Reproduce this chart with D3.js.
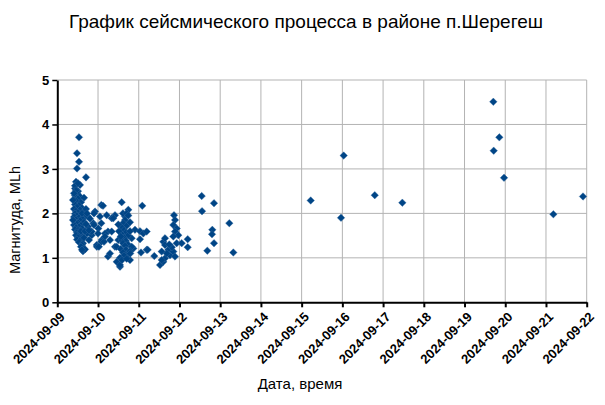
<!DOCTYPE html>
<html><head><meta charset="utf-8">
<script src="https://cdn.jsdelivr.net/npm/d3@7"></script>
<style>
body{margin:0;background:#fff;}
svg{display:block;}
</style></head>
<body>
<svg id="chart" width="605" height="405"></svg>
<script>
// ---- data ----
const titleText = "График сейсмического процесса в районе п.Шерегеш";
const yLabelText = "Магнитуда, MLh";
const xLabelText = "Дата, время";
const xTickLabels = ["2024-09-09","2024-09-10","2024-09-11","2024-09-12","2024-09-13","2024-09-14","2024-09-15","2024-09-16","2024-09-17","2024-09-18","2024-09-19","2024-09-20","2024-09-21","2024-09-22"];
const yTicks = [0,1,2,3,4,5];

const events0909 = [
["12:47",3.71],["11:37",3.35],["12:47",3.16],["11:37",3.01],["16:55",2.81],
["11:01",2.71],["13:22",2.64],["10:26",2.56],["12:12",2.50],["11:37",2.45],["10:26",2.40],["13:22",2.38],["12:12",2.33],["11:01",2.28],["13:58",2.25],["10:26",2.20],["12:47",2.18],["11:37",2.14],["09:51",2.10],["14:33",2.12],["13:22",2.08],["11:01",2.05],["12:12",2.02],["10:26",1.99],["15:08",2.02],["13:58",1.97],["11:37",1.95],["09:51",1.92],["12:47",1.90],["16:19",1.92],["14:33",1.88],["11:01",1.86],["13:22",1.84],["10:26",1.81],["12:12",1.79],["15:44",1.80],["11:37",1.76],["09:51",1.74],["13:58",1.73],["12:47",1.70],["11:01",1.68],["14:33",1.66],["10:26",1.64],["12:12",1.62],["13:22",1.60],["11:37",1.57],["15:08",1.56],["12:47",1.53],["11:01",1.51],["13:58",1.49],["12:12",1.46],["14:33",1.44],["11:37",1.41],["13:22",1.38],["12:47",1.35],["15:08",1.33],["14:33",1.29],["13:58",1.25],["15:44",1.21],["15:08",1.15],["16:19",1.19],
["09:16",2.30],["09:16",1.85],["10:26",2.62],["11:01",2.52],["12:12",2.68],["09:51",2.45],["13:58",1.60],["14:33",2.00],["15:44",1.45],
["18:05",1.93],["22:13",2.04],["21:13",1.78],["20:17",1.51],["23:14",1.29],["18:05",1.70],["16:55",2.10],["17:30",1.55],["18:40",1.40],["15:44",2.35],["16:19",1.60],["21:38",2.00],["21:38",1.74],["20:17",1.59],["23:20",1.25],["14:33",1.18],["19:16",1.88],["17:30",2.00],["16:55",1.76],["18:40",1.62]
];
const events0910 = [
["00:10",1.66],["01:10",1.93],["02:10",1.40],["01:56",2.19],["01:56",1.78],["00:00",1.55],["01:56",1.36],["00:30",1.25],["05:53",1.59],["07:04",1.40],["05:53",1.03],["02:56",2.17],["04:06",1.55],["03:31",1.36],["05:07",1.96],["04:06",1.48],
["13:58",2.25],["17:51",2.08],["10:00",1.96],["08:04",1.89],["15:55",1.93],["09:00",1.89],["08:04",1.59],["11:57",1.40],["10:00",1.25],["07:04",1.10],["11:00",0.91],["12:57",0.80],["18:50",0.95],["15:55",1.03],["19:51",1.44],["21:47",1.63],["20:47",1.21],["11:00",1.25],["12:57",0.84],
["14:43",2.00],["15:55",1.85],["14:43",1.78],["16:54",1.72],["13:58",1.68],["15:19",1.62],["16:29",1.57],["14:08",1.52],["17:40",1.50],["15:19",1.45],["13:58",1.40],["16:29",1.38],["14:43",1.33],["17:40",1.30],["15:55",1.27],["13:22",1.20],["16:29",1.18],["14:43",1.12],["17:40",1.08],["15:19",1.05],["12:57",1.00],["14:08",0.95],["16:54",2.00],["18:50",1.80],["18:50",1.60],["19:51",1.25],["18:50",1.15],["17:51",1.95],["12:20",1.60],["11:57",1.75],["16:54",0.98],["13:22",1.48],["19:00",1.10]
];
const events0911 = [
["00:45",1.60],["02:41",1.55],["00:45",1.42],["01:20",1.12],["04:41",1.18],["02:05",2.17],["04:41",1.59],["05:17",1.18],["09:10",1.04],
["12:32",0.84],["13:32",1.14],["14:28",0.91],["15:29",0.99],["14:28",1.36],["15:29",1.44],["15:29",1.29],["17:25",1.18],["18:26",1.06],["20:22",1.14],["21:22",1.03],["22:22",1.33],["20:47",1.96],["21:22",1.85],["20:22",1.74],["22:22",1.66],["21:22",1.59],["23:19",1.51],["20:22",1.48],["19:30",1.24],["18:00",1.30],["16:30",1.10],["13:32",0.95]
];
const events0912 = [
["01:19",1.33],["04:51",1.42],["04:51",1.24],["13:06",2.39],["20:21",2.23],["13:18",2.05],["19:22",1.63],["19:11",1.53],["20:21",1.33],["16:25",1.16]
];
const events0913 = [["05:22",1.78],["07:44",1.12]];
const eventsLater = [
["2024-09-15 05:21",2.29],["2024-09-15 23:13",1.90],["2024-09-16 00:48",3.30],["2024-09-16 19:05",2.41],["2024-09-17 11:21",2.24],
["2024-09-19 16:58",4.51],["2024-09-19 17:12",3.41],["2024-09-19 20:31",3.71],["2024-09-19 23:17",2.80],["2024-09-21 04:21",1.98],["2024-09-21 21:50",2.38]
];

// ---- build ----
const parse = d3.timeParse("%Y-%m-%d %H:%M");
const points = [];
[["2024-09-09",events0909],["2024-09-10",events0910],["2024-09-11",events0911],["2024-09-12",events0912],["2024-09-13",events0913]]
  .forEach(([day, arr]) => arr.forEach(([t,m]) => points.push({date: parse(day+" "+t), mag: m})));
eventsLater.forEach(([t,m]) => points.push({date: parse(t), mag: m}));

const svg = d3.select("#chart");
const pL = 57.3, pR = 586.7, pT = 80, pB = 302.3;
const tickDates = xTickLabels.map(s => d3.timeParse("%Y-%m-%d")(s));

const x = d3.scaleTime().domain([tickDates[0], tickDates[tickDates.length-1]]).range([pL, pR]);
const y = d3.scaleLinear().domain([0,5]).range([pB, pT]);

// grid
svg.append("g").selectAll("line").data(tickDates.slice(1)).join("line")
  .attr("x1", d=>x(d)).attr("x2", d=>x(d)).attr("y1", pT).attr("y2", pB)
  .attr("stroke","#b3b3b3").attr("stroke-width",1);
svg.append("g").selectAll("line").data(yTicks.slice(1)).join("line")
  .attr("x1", pL).attr("x2", pR).attr("y1", d=>y(d)).attr("y2", d=>y(d))
  .attr("stroke","#b3b3b3").attr("stroke-width",1);

// axes
const xAxis = svg.append("g").attr("transform",`translate(0,${pB})`)
  .call(d3.axisBottom(x).tickValues(tickDates).tickSize(5).tickSizeOuter(0).tickFormat(""));
xAxis.select(".domain").attr("stroke","#000").attr("stroke-width",2);
xAxis.selectAll(".tick line").attr("stroke","#000").attr("stroke-width",2);

const yAxis = svg.append("g").attr("transform",`translate(${pL},0)`)
  .call(d3.axisLeft(y).tickValues(yTicks).tickSize(5).tickSizeOuter(0).tickFormat(d3.format("d")));
yAxis.select(".domain").attr("stroke","#000").attr("stroke-width",2);
yAxis.selectAll(".tick line").attr("stroke","#000").attr("stroke-width",1.5);
yAxis.selectAll(".tick text").attr("font-family","Liberation Sans, Arial, sans-serif")
  .attr("font-size",13).attr("font-weight","bold").attr("fill","#000").attr("x",-8);

// x tick labels rotated
svg.append("g").selectAll("text").data(tickDates).join("text")
  .attr("transform", (d)=>`translate(${x(d)+5},${pB+12}) rotate(-45)`)
  .attr("text-anchor","end").attr("dy","0.35em")
  .attr("font-family","Liberation Sans, Arial, sans-serif").attr("font-size",13).attr("font-weight","bold")
  .text((d,i)=>xTickLabels[i]);

// points
const sym = d3.symbol().type(d3.symbolDiamond2).size(36);
svg.append("g").selectAll("path").data(points).join("path")
  .attr("d", sym)
  .attr("transform", d=>`translate(${x(d.date)},${y(d.mag)})`)
  .attr("fill","#004586").attr("stroke","#3a6fa5").attr("stroke-width",0.4);

// titles
svg.append("text").attr("x",306).attr("y",28).attr("text-anchor","middle")
  .attr("font-family","Liberation Sans, Arial, sans-serif").attr("font-size",19).text(titleText);
svg.append("text").attr("x",300).attr("y",389).attr("text-anchor","middle")
  .attr("font-family","Liberation Sans, Arial, sans-serif").attr("font-size",15).text(xLabelText);
svg.append("text").attr("transform",`translate(20,220) rotate(-90)`).attr("text-anchor","middle")
  .attr("font-family","Liberation Sans, Arial, sans-serif").attr("font-size",14.5).text(yLabelText);
</script>
</body></html>
